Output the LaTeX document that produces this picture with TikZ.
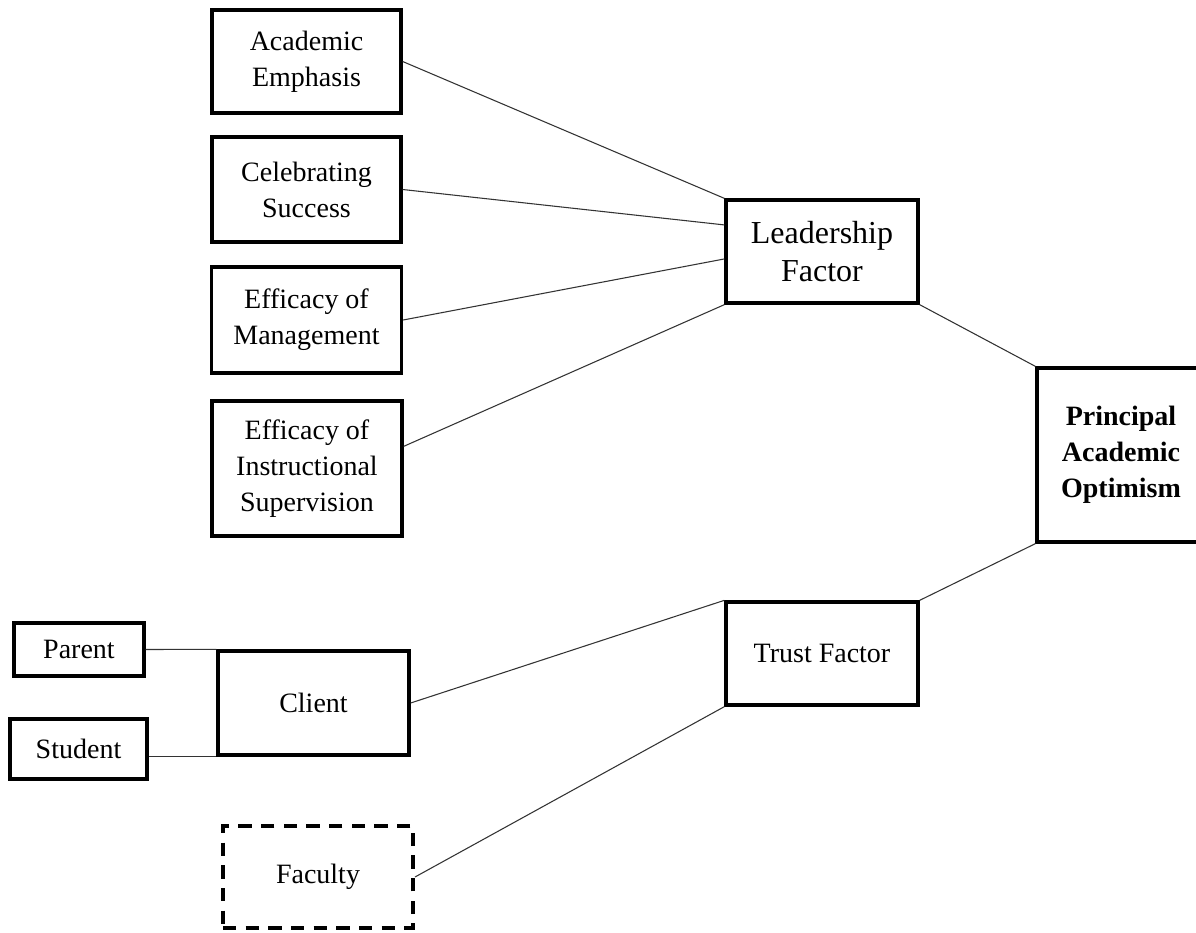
\documentclass[tikz,border=0pt]{standalone}
\usepackage{fontspec}
\setmainfont{Liberation Serif}
\usepackage{tikz}
\usetikzlibrary{calc}

\newcommand{\boxfont}{\fontsize{21}{27}\selectfont}
\newcommand{\bigboxfont}{\fontsize{24}{29}\selectfont}

\begin{document}
\begin{tikzpicture}[x=0.75pt, y=-0.75pt,
    box/.style={draw, line width=2.5pt, inner sep=0pt, align=center, font=\boxfont},
    boxsize/.style 2 args={minimum width=#1*0.75pt, minimum height=#2*0.75pt},
    link/.style={line width=0.8pt, draw=black!80}]
        \useasboundingbox (0, 0) rectangle (1196, 932);
        \node[box, boxsize={189}{103}] (acad)    at (306.5,  61.5) {Academic\\Emphasis};
        \node[box, boxsize={189}{105}] (celeb)   at (306.5, 189.5) {Celebrating\\Success};
        \node[box, boxsize={190}{106}] (mgmt)    at (306.5, 320)   {Efficacy of\\Management};
        \node[box, boxsize={190}{135}] (instr)   at (307, 468.5)   {Efficacy of\\Instructional\\Supervision};
        \node[box, boxsize={192}{103}, font=\bigboxfont] (lead) at (822, 251.5) {Leadership\\Factor};
        \node[box, boxsize={168}{174}, font=\boxfont\bfseries] (prin) at (1121, 455) {Principal\\Academic\\Optimism};
        \node[box, boxsize={192}{103}] (trust)   at (822, 653.5)   {Trust Factor};
        \node[box, boxsize={191}{104}] (client)  at (313.5, 703)   {Client};
        \node[box, boxsize={130}{53}]  (parent)  at (79, 649.5)    {Parent};
        \node[box, boxsize={137}{60}]  (student) at (78.5, 749)    {Student};
        \node[box, boxsize={190}{102}, dash pattern=on 10pt off 7pt, line width=3pt] (faculty) at (318, 877) {Faculty};
        %
        \coordinate (L1) at ($(lead.north west)!0.25!(lead.south west)$);
        \coordinate (L2) at ($(lead.north west)!0.57!(lead.south west)$);
        \coordinate (I1) at ($(instr.north east)!0.34!(instr.south east)$);
        \draw[link] (acad.east) -- (lead.north west);
        \draw[link] (celeb.east) -- (L1);
        \draw[link] (mgmt.east) -- (L2);
        \draw[link] (I1) -- (lead.south west);
        \draw[link] (lead.south east) -- (prin.north west);
        \draw[link] (trust.north east) -- (prin.south west);
        \draw[link] (client.east) -- (trust.north west);
        \draw[link] (faculty.east) -- (trust.south west);
        \draw[link] (parent.east) -- (client.north west);
        \draw[link] (student.east |- client.south west) -- (client.south west);
        %
    \end{tikzpicture}
\end{document}
